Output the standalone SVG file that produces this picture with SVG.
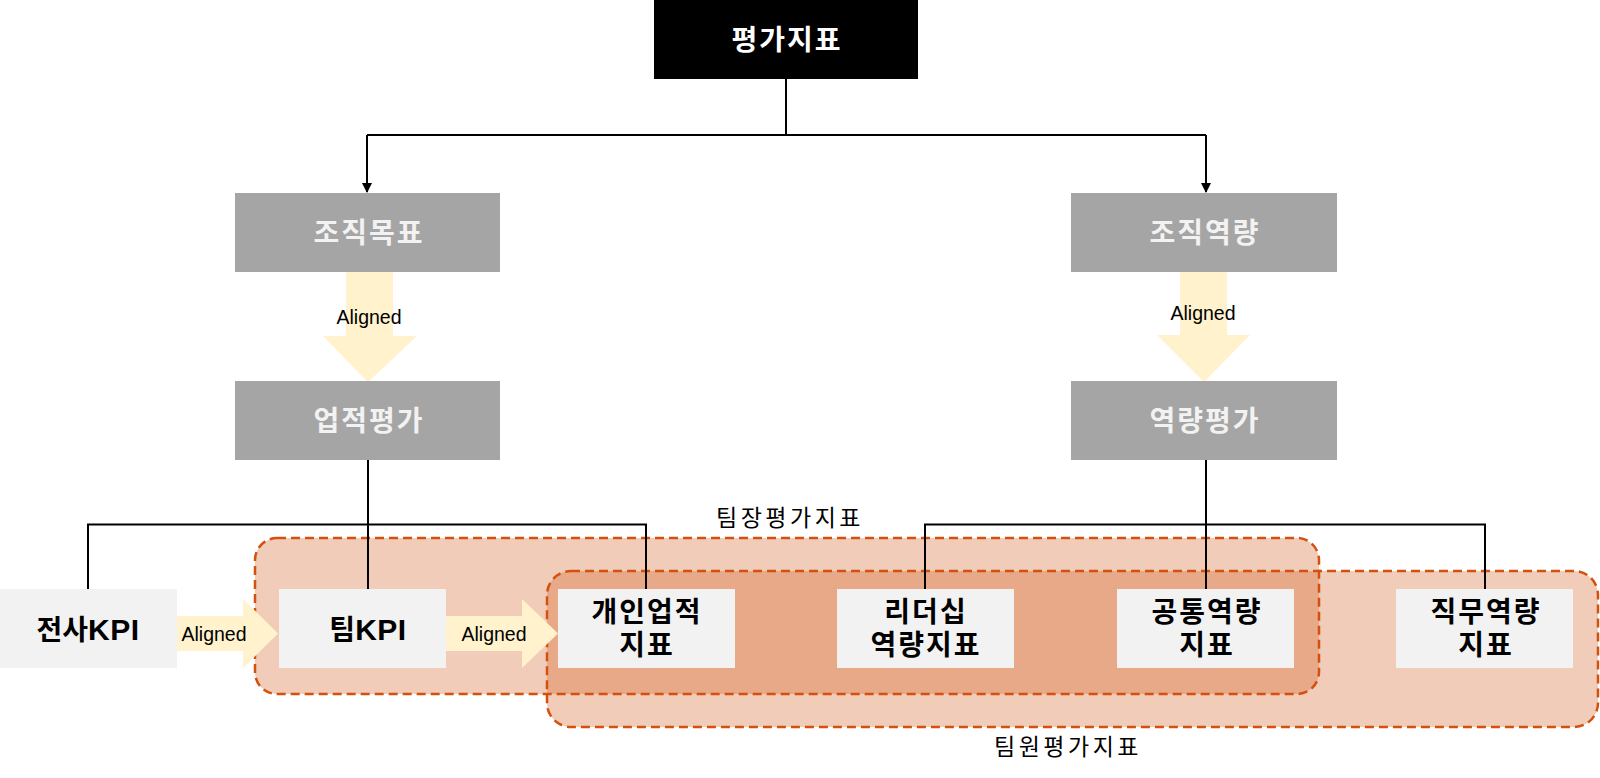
<svg xmlns="http://www.w3.org/2000/svg" width="1600" height="778" viewBox="0 0 1600 778">
<style>
.k{font-family:"Noto Sans CJK KR","Liberation Sans",sans-serif;font-weight:bold;text-anchor:middle;font-size:28px;letter-spacing:2px}
.w{fill:#F2F2F2}
.b{fill:#000}
.kpi{font-family:"Liberation Sans",Arial,sans-serif;font-size:30px;letter-spacing:0.5px}
.lab{font-family:"Noto Sans CJK KR","Liberation Sans",sans-serif;font-size:23px;letter-spacing:3.5px;fill:#000;text-anchor:middle}
.al{font-family:"Liberation Sans",Arial,sans-serif;font-size:19.5px;fill:#000;text-anchor:middle}
.gray{fill:#A5A5A5}
.lt{fill:#F2F2F2}
.ya{fill:#FFF2CC}
.ln{stroke:#000;stroke-width:2;fill:none}
.dash{fill:none;stroke:#D4500F;stroke-width:2.5;stroke-dasharray:9 5}
</style>
<defs>
<marker id="ah" markerWidth="10" markerHeight="10" refX="9" refY="5" orient="auto" markerUnits="userSpaceOnUse">
<path d="M0,0 L10,5 L0,10 Z" fill="#000"/>
</marker>
<clipPath id="leadClip"><rect x="255" y="538" width="1064" height="156" rx="22" ry="22"/></clipPath>
</defs>

<g id="regions">
<rect x="255" y="538" width="1064" height="156" rx="22" ry="22" fill="#F1CDB9"/>
<rect x="547" y="571" width="1051" height="156" rx="24" ry="24" fill="#F1CDB9"/>
<rect x="547" y="571" width="1051" height="156" rx="24" ry="24" fill="#E8A989" clip-path="url(#leadClip)"/>
<rect class="dash" x="255" y="538" width="1064" height="156" rx="22" ry="22"/>
<rect class="dash" x="547" y="571" width="1051" height="156" rx="24" ry="24"/>
<text class="lab" x="790" y="526">팀장평가지표</text>
<text class="lab" x="1068" y="755">팀원평가지표</text>
</g>

<g id="connectors">
<path class="ln" d="M786,79 V135 M367,135 H1206"/>
<path class="ln" d="M367,135 V192" marker-end="url(#ah)"/>
<path class="ln" d="M1206,135 V192" marker-end="url(#ah)"/>
<path class="ln" d="M368,460 V589 M88,589 V524.5 H646 V589"/>
<path class="ln" d="M1206,460 V589 M925,589 V524.5 H1485 V589"/>
</g>

<g id="arrows">
<polygon class="ya" points="346,272 393,272 393,336 417,336 368,382 323,336 346,336"/>
<text class="al" x="369" y="324">Aligned</text>
<polygon class="ya" points="1180,272 1227,272 1227,335 1250,335 1204,382 1157,335 1180,335"/>
<text class="al" x="1203" y="320">Aligned</text>
<polygon class="ya" points="176,616 243,616 243,599 278,633.5 243,668 243,651 176,651"/>
<text class="al" x="214" y="641">Aligned</text>
<polygon class="ya" points="446,616 522,616 522,599 558,633.5 522,668 522,651 446,651"/>
<text class="al" x="494" y="641">Aligned</text>
</g>

<g id="n-top"><rect x="654" y="0" width="264" height="79" fill="#000"/><text class="k w" x="787" y="50" style="fill:#fff">평가지표</text></g>
<g id="n-orggoal"><rect class="gray" x="235" y="193" width="265" height="79"/><text class="k w" x="369" y="243">조직목표</text></g>
<g id="n-perf"><rect class="gray" x="235" y="381" width="265" height="79"/><text class="k w" x="369" y="431">업적평가</text></g>
<g id="n-orgcomp"><rect class="gray" x="1071" y="193" width="266" height="79"/><text class="k w" x="1205" y="243">조직역량</text></g>
<g id="n-comp"><rect class="gray" x="1071" y="381" width="266" height="79"/><text class="k w" x="1205" y="431">역량평가</text></g>

<g id="n-corpkpi"><rect class="lt" x="0" y="589" width="177" height="79"/><text class="k b" x="88" y="640" style="letter-spacing:0">전사<tspan class="kpi">KPI</tspan></text></g>
<g id="n-teamkpi"><rect class="lt" x="279" y="589" width="167" height="79"/><text class="k b" x="368" y="640" style="letter-spacing:0">팀<tspan class="kpi">KPI</tspan></text></g>
<g id="n-indiv"><rect class="lt" x="558" y="589" width="177" height="79"/><text class="k b"><tspan x="647" y="622">개인업적</tspan><tspan x="647" y="655">지표</tspan></text></g>
<g id="n-leader"><rect class="lt" x="837" y="589" width="177" height="79"/><text class="k b"><tspan x="926" y="622">리더십</tspan><tspan x="926" y="655">역량지표</tspan></text></g>
<g id="n-common"><rect class="lt" x="1117" y="589" width="177" height="79"/><text class="k b"><tspan x="1207" y="622">공통역량</tspan><tspan x="1207" y="655">지표</tspan></text></g>
<g id="n-job"><rect class="lt" x="1396" y="589" width="177" height="79"/><text class="k b"><tspan x="1486" y="622">직무역량</tspan><tspan x="1486" y="655">지표</tspan></text></g>
</svg>
